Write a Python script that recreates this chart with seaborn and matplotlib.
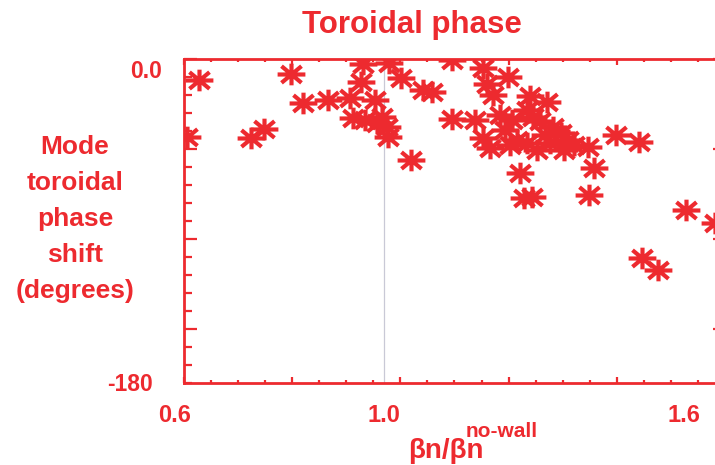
import numpy as np
import matplotlib
matplotlib.use("Agg")
import matplotlib.pyplot as plt
import seaborn as sns
from matplotlib.path import Path
from matplotlib.ticker import FixedLocator

# beta_N / beta_N(no-wall) for each discharge
ratio = [0.606, 0.630, 0.734, 0.760, 0.814, 0.838, 0.889, 0.933, 0.959, 0.955,
         0.983, 1.011, 1.035, 0.939, 0.963, 0.987, 0.997, 1.007, 1.009, 1.055,
         1.079, 1.097, 1.137, 1.137, 1.183, 1.199, 1.207, 1.219, 1.249, 1.293,
         1.327, 1.199, 1.213, 1.233, 1.257, 1.287, 1.299, 1.313, 1.339, 1.354,
         1.267, 1.287, 1.307, 1.333, 1.360, 1.380, 1.408, 1.368, 1.273, 1.281,
         1.297, 1.420, 1.410, 1.464, 1.510, 1.604, 1.662, 1.516, 1.548, 1.243,
         1.323, 1.253]
# toroidal phase shift of the mode (degrees)
phase = [-43.2, -11.5, -43.8, -38.8, -8.2, -24.3, -22.6, -21.5, -2.6, -12.6,
         -22.6, -2.1, -10.4, -32.7, -33.8, -35.4, -32.1, -37.7, -43.2, -56.0,
         -17.1, -18.2, -0.4, -33.2, -33.8, -4.8, -13.7, -19.9, -9.8, -20.4,
         -23.8, -43.8, -49.4, -31.0, -33.8, -28.2, -32.1, -34.3, -37.7, -41.0,
         -44.9, -46.6, -50.5, -46.6, -50.5, -47.7, -48.8, -44.9, -63.3, -77.2,
         -76.6, -60.5, -75.5, -42.1, -46.0, -83.9, -91.1, -110.6, -117.3, -39.3,
         -42.1, -47.7]

x_tick_values = [0.6, 1.0, 1.6]
x_tick_labels = ["0.6", "1.0", "1.6"]
y_tick_values = [0.0, -180.0]
y_tick_labels = ["0.0", "-180"]

RED = "#ED2A2F"
XMIN, XMAX = 0.6, 1.682
YMIN, YMAX = -180.0, 0.0

sns.set_theme(style="white")
plt.rcParams["font.family"] = ["Liberation Sans", "DejaVu Sans"]
plt.rcParams["font.weight"] = "bold"

fig = plt.figure(figsize=(7.15, 4.65), dpi=100)
ax = fig.add_axes([0.2573, 0.1763, 0.7566, 0.6961])

# eight-armed asterisk, a little wider than tall
arms = [(1, 0), (-1, 0), (0, 0.78), (0, -0.78),
        (0.72, 0.6), (-0.72, 0.6), (0.72, -0.6), (-0.72, -0.6)]
verts, codes = [], []
for dx, dy in arms:
    verts += [(0, 0), (dx, dy)]
    codes += [Path.MOVETO, Path.LINETO]
star = Path(verts, codes)

ax.axvline(1.0, color="#C9C9D6", lw=0.9, zorder=1)
sns.scatterplot(x=ratio, y=phase, ax=ax, marker=star, s=400, color=RED,
                edgecolor=RED, linewidth=3.0, zorder=3, legend=False)

ax.set_xlim(XMIN, XMAX)
ax.set_ylim(YMIN, YMAX)

ax.xaxis.set_major_locator(FixedLocator(np.linspace(XMIN, XMAX, 6)))
ax.xaxis.set_minor_locator(FixedLocator(np.linspace(XMIN, XMAX, 21)))
ax.yaxis.set_major_locator(FixedLocator([0, -50, -100, -150]))
ax.yaxis.set_minor_locator(FixedLocator(np.arange(-180, 1, 10)))

for s in ax.spines.values():
    s.set_color(RED)
    s.set_linewidth(2.0)
    s.set_visible(True)

ax.tick_params(which="both", direction="in", colors=RED, width=1.6,
               top=True, right=True, bottom=True, left=True,
               labelbottom=False, labelleft=False)
ax.tick_params(axis="y", which="major", length=9)
ax.tick_params(axis="y", which="minor", length=6)
ax.tick_params(axis="x", which="major", length=4.3)
ax.tick_params(axis="x", which="minor", length=2.2)
ax.set_xlabel("")
ax.set_ylabel("")

# tick labels
x_shift = {"0.6": -9}
for val, lab in zip(x_tick_values, x_tick_labels):
    ax.annotate(lab, xy=(val, 0), xycoords=ax.get_xaxis_transform(),
                xytext=(x_shift.get(lab, 0), -39), textcoords="offset pixels",
                ha="center", va="baseline", fontsize=17, color=RED,
                fontweight="bold")
y_shift = {"0.0": (-22, -12), "-180": (-31, -1)}
for val, lab in zip(y_tick_values, y_tick_labels):
    ax.annotate(lab, xy=(0, val), xycoords=ax.get_yaxis_transform(),
                xytext=y_shift[lab], textcoords="offset pixels",
                ha="right", va="center", fontsize=16.5, color=RED,
                fontweight="bold")

fig.text(412 / 715, 1 - 33 / 465, "Toroidal phase", ha="center", va="baseline",
         fontsize=22.5, color=RED, fontweight="bold")
fig.text(75 / 715, 1 - 219 / 465, "Mode\ntoroidal\nphase\nshift\n(degrees)",
         ha="center", va="center", ma="center", fontsize=19, linespacing=1.64,
         color=RED, fontweight="bold")
fig.text(408 / 715, 1 - 458 / 465, "\u03b2n/\u03b2n", ha="left", va="baseline",
         fontsize=20, color=RED, fontweight="bold")
fig.text(466 / 715, 1 - 437 / 465, "no-wall", ha="left", va="baseline",
         fontsize=15, color=RED, fontweight="bold")

fig.savefig("out.png", dpi=100)
